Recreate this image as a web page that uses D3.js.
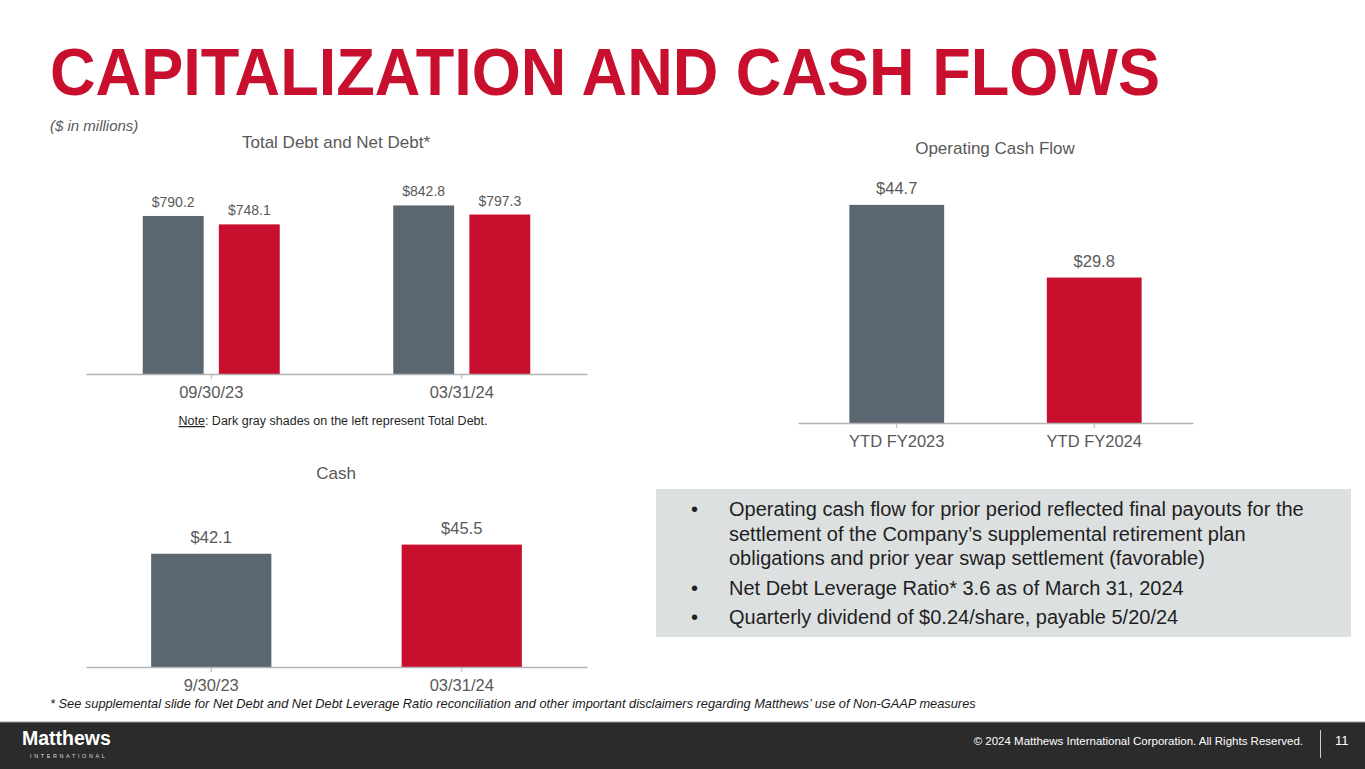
<!DOCTYPE html>
<html>
<head>
<meta charset="utf-8">
<script src="https://cdn.jsdelivr.net/npm/d3@7"></script>
<style>
  body { margin: 0; background: #fff; }
  svg { display: block; font-family: Arial, "Liberation Sans", sans-serif; }
</style>
</head>
<body>
<div class="slide"></div>
<script>
// data
var debtCategories = ["09/30/23", "03/31/24"];
var totalDebt = [790.2, 842.8];
var netDebt = [748.1, 797.3];

var ocfCategories = ["YTD FY2023", "YTD FY2024"];
var ocfValues = [44.7, 29.8];

var cashCategories = ["9/30/23", "03/31/24"];
var cashValues = [42.1, 45.5];

var bullets = [
  ["Operating cash flow for prior period reflected final payouts for the",
   "settlement of the Company\u2019s supplemental retirement plan",
   "obligations and prior year swap settlement (favorable)"],
  ["Net Debt Leverage Ratio* 3.6 as of March 31, 2024"],
  ["Quarterly dividend of $0.24/share, payable 5/20/24"]
];

var gray = "#5a6670";
var red = "#c8102e";
var textGray = "#595959";

var svg = d3.select(".slide")
  .append("svg")
  .attr("width", 1365)
  .attr("height", 769);

// title
svg.append("text")
  .attr("x", 50).attr("y", 95)
  .attr("font-size", 66).attr("font-weight", "bold")
  .attr("fill", red)
  .attr("textLength", 1110).attr("lengthAdjust", "spacingAndGlyphs")
  .text("CAPITALIZATION AND CASH FLOWS");

svg.append("text")
  .attr("x", 50).attr("y", 131)
  .attr("font-size", 15).attr("font-style", "italic")
  .attr("fill", textGray)
  .text("($ in millions)");

// draws axis line + ticks + category labels
function drawAxis(x, y0, labelSize) {
  var g = svg.append("g")
    .attr("transform", `translate(0, ${y0})`)
    .call(d3.axisBottom(x).tickSize(5).tickSizeOuter(0).tickPadding(7));
  g.select(".domain").attr("stroke", "#b3b3b3").attr("stroke-width", 1.5);
  g.selectAll(".tick line").attr("stroke", "#b3b3b3");
  g.selectAll(".tick text")
    .attr("fill", textGray)
    .attr("font-size", labelSize)
    .attr("font-family", "Arial, 'Liberation Sans', sans-serif");
  return g;
}

function chartTitle(txt, cx, y) {
  svg.append("text")
    .attr("x", cx).attr("y", y)
    .attr("text-anchor", "middle")
    .attr("font-size", 17)
    .attr("fill", textGray)
    .text(txt);
}

// ---- Total Debt and Net Debt ----
chartTitle("Total Debt and Net Debt*", 336, 148);

var debtX = d3.scaleBand().domain(debtCategories).range([86, 587]);
var debtY = d3.scaleLinear().domain([0, 900]).range([374, 194]);
var debtSeries = ["total", "net"];
var debtInner = d3.scaleBand().domain(debtSeries)
  .range([debtX.bandwidth() / 2 - 68.5, debtX.bandwidth() / 2 + 68.5])
  .paddingInner(0.2);

var debtRows = [];
debtCategories.forEach(function(c, i) {
  debtRows.push({cat: c, key: "total", value: totalDebt[i]});
  debtRows.push({cat: c, key: "net", value: netDebt[i]});
});

svg.append("g").selectAll("rect")
  .data(debtRows)
  .join("rect")
  .attr("x", d => debtX(d.cat) + debtInner(d.key))
  .attr("y", d => debtY(d.value))
  .attr("width", debtInner.bandwidth())
  .attr("height", d => debtY(0) - debtY(d.value))
  .attr("fill", d => d.key == "total" ? gray : red);

svg.append("g").selectAll("text")
  .data(debtRows)
  .join("text")
  .attr("x", d => debtX(d.cat) + debtInner(d.key) + debtInner.bandwidth() / 2)
  .attr("y", d => debtY(d.value) - 9)
  .attr("text-anchor", "middle")
  .attr("font-size", 14)
  .attr("fill", textGray)
  .text(d => "$" + d.value.toFixed(1));

drawAxis(debtX, 374, 16.5);

var note = svg.append("text")
  .attr("x", 333).attr("y", 425)
  .attr("text-anchor", "middle")
  .attr("font-size", 12.5)
  .attr("fill", "#262626");
note.append("tspan").attr("text-decoration", "underline").text("Note");
note.append("tspan").text(": Dark gray shades on the left represent Total Debt.");

// ---- Operating Cash Flow ----
chartTitle("Operating Cash Flow", 995, 154);

var ocfX = d3.scaleBand().domain(ocfCategories).range([798, 1193])
  .paddingInner(0.52).paddingOuter(0.26);
var ocfY = d3.scaleLinear().domain([0, 50]).range([423, 179]);

svg.append("g").selectAll("rect")
  .data(ocfValues)
  .join("rect")
  .attr("x", (d, i) => ocfX(ocfCategories[i]))
  .attr("y", d => ocfY(d))
  .attr("width", ocfX.bandwidth())
  .attr("height", d => ocfY(0) - ocfY(d))
  .attr("fill", (d, i) => i == 0 ? gray : red);

svg.append("g").selectAll("text")
  .data(ocfValues)
  .join("text")
  .attr("x", (d, i) => ocfX(ocfCategories[i]) + ocfX.bandwidth() / 2)
  .attr("y", d => ocfY(d) - 11)
  .attr("text-anchor", "middle")
  .attr("font-size", 16.5)
  .attr("fill", textGray)
  .text(d => "$" + d.toFixed(1));

drawAxis(ocfX.copy().paddingInner(0).paddingOuter(0), 423, 16.5);

// ---- Cash ----
chartTitle("Cash", 336, 479);

var cashX = d3.scaleBand().domain(cashCategories).range([86, 587])
  .paddingInner(0.52).paddingOuter(0.26);
var cashY = d3.scaleLinear().domain([0, 50]).range([667, 532.5]);

svg.append("g").selectAll("rect")
  .data(cashValues)
  .join("rect")
  .attr("x", (d, i) => cashX(cashCategories[i]))
  .attr("y", d => cashY(d))
  .attr("width", cashX.bandwidth())
  .attr("height", d => cashY(0) - cashY(d))
  .attr("fill", (d, i) => i == 0 ? gray : red);

svg.append("g").selectAll("text")
  .data(cashValues)
  .join("text")
  .attr("x", (d, i) => cashX(cashCategories[i]) + cashX.bandwidth() / 2)
  .attr("y", d => cashY(d) - 11)
  .attr("text-anchor", "middle")
  .attr("font-size", 16.5)
  .attr("fill", textGray)
  .text(d => "$" + d.toFixed(1));

drawAxis(cashX.copy().paddingInner(0).paddingOuter(0), 667, 16.5);

// ---- bullet box ----
svg.append("rect")
  .attr("x", 656).attr("y", 489)
  .attr("width", 695).attr("height", 148)
  .attr("fill", "#dde0e1");

var lineY = 516;
bullets.forEach(function(lines, bi) {
  if (bi > 0) lineY += 5;
  svg.append("text")
    .attr("x", 691).attr("y", lineY)
    .attr("font-size", 20).attr("fill", "#1f1f1f")
    .text("\u2022");
  lines.forEach(function(l) {
    svg.append("text")
      .attr("x", 729).attr("y", lineY)
      .attr("font-size", 20).attr("fill", "#1f1f1f")
      .text(l);
    lineY += 24.5;
  });
});

// footnote
svg.append("text")
  .attr("x", 50).attr("y", 708)
  .attr("font-size", 12.8).attr("font-style", "italic")
  .attr("fill", "#1a1a1a")
  .text("* See supplemental slide for Net Debt and Net Debt Leverage Ratio reconciliation and other important disclaimers regarding Matthews\u2019 use of Non-GAAP measures");

// ---- footer ----
svg.append("rect")
  .attr("x", 0).attr("y", 722)
  .attr("width", 1365).attr("height", 47)
  .attr("fill", "#2b2b2b");
svg.append("line")
  .attr("x1", 0).attr("x2", 1365).attr("y1", 722).attr("y2", 722)
  .attr("stroke", "#9a9a9a").attr("stroke-width", 1);

svg.append("text")
  .attr("x", 22).attr("y", 745)
  .attr("font-size", 19.5).attr("font-weight", "bold")
  .attr("fill", "#fff")
  .text("Matthews");
svg.append("text")
  .attr("x", 30).attr("y", 758)
  .attr("font-size", 5.5)
  .attr("fill", "#ddd")
  .attr("letter-spacing", 2.6)
  .text("INTERNATIONAL");

svg.append("text")
  .attr("x", 1303).attr("y", 745)
  .attr("text-anchor", "end")
  .attr("font-size", 11.5)
  .attr("fill", "#fff")
  .text("\u00a9 2024 Matthews International Corporation. All Rights Reserved.");
svg.append("line")
  .attr("x1", 1320.5).attr("x2", 1320.5).attr("y1", 730).attr("y2", 758)
  .attr("stroke", "#ccc").attr("stroke-width", 1);
svg.append("text")
  .attr("x", 1335).attr("y", 745)
  .attr("font-size", 13)
  .attr("fill", "#fff")
  .text("11");
</script>
</body>
</html>
